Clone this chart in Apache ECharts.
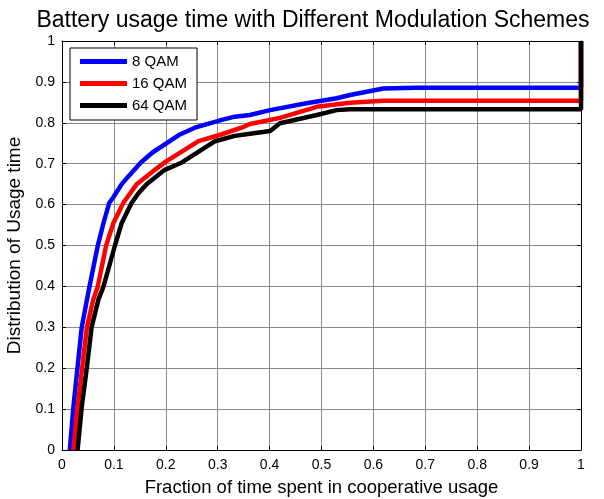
<!DOCTYPE html>
<html>
<head>
<meta charset="utf-8">
<script src="https://cdn.jsdelivr.net/npm/echarts@6/dist/echarts.min.js"></script>
<style>
  html, body { margin: 0; padding: 0; background: #fff; }
  #chart { width: 604px; height: 499px; }
</style>
</head>
<body>
<div id="chart"></div>
<script>
var legendNames = ['8 QAM', '16 QAM', '64 QAM'];

// [fraction of time, distribution]
var qam8 = [
  [0.015, 0], [0.022, 0.105], [0.030, 0.203], [0.038, 0.30], [0.048, 0.367],
  [0.053, 0.40], [0.069, 0.50], [0.080, 0.555], [0.091, 0.604], [0.099, 0.618],
  [0.115, 0.650], [0.130, 0.672], [0.152, 0.703], [0.175, 0.728], [0.204, 0.752],
  [0.225, 0.770], [0.256, 0.788], [0.308, 0.807], [0.333, 0.815], [0.362, 0.819],
  [0.401, 0.831], [0.471, 0.848], [0.529, 0.860], [0.555, 0.868], [0.619, 0.884],
  [0.683, 0.886], [1, 0.886], [1, 1]
];
var qam16 = [
  [0.022, 0], [0.030, 0.105], [0.039, 0.203], [0.048, 0.30], [0.060, 0.367],
  [0.069, 0.40], [0.085, 0.50], [0.099, 0.555], [0.118, 0.604], [0.144, 0.65],
  [0.179, 0.685], [0.200, 0.705], [0.263, 0.755], [0.308, 0.772], [0.346, 0.788],
  [0.362, 0.797], [0.420, 0.812], [0.491, 0.839], [0.555, 0.849], [0.619, 0.854],
  [1, 0.854], [1, 1]
];
var qam64 = [
  [0.030, 0], [0.038, 0.105], [0.048, 0.203], [0.057, 0.30], [0.070, 0.367],
  [0.080, 0.40], [0.102, 0.50], [0.115, 0.555], [0.134, 0.604], [0.147, 0.627],
  [0.163, 0.65], [0.198, 0.685], [0.231, 0.703], [0.295, 0.755], [0.333, 0.768],
  [0.362, 0.773], [0.401, 0.780], [0.420, 0.799], [0.491, 0.819], [0.529, 0.831],
  [0.555, 0.833], [1, 0.833], [1, 1]
];

var font = 'Liberation Sans, Arial, sans-serif';

function makeAxis(isX, pos, labels, name) {
  return {
    type: 'value',
    position: pos,
    min: 0,
    max: 1,
    interval: 0.1,
    name: name,
    nameLocation: 'middle',
    nameGap: isX ? 28 : 35,
    nameTextStyle: { fontFamily: font, fontSize: isX ? 18.5 : 19, color: '#000' },
    axisLine: { show: true, onZero: false, lineStyle: { color: '#000', width: 1 } },
    axisTick: { show: true, inside: true, length: 4, lineStyle: { color: '#000' } },
    axisLabel: {
      show: labels,
      fontFamily: font,
      fontSize: 14,
      color: '#000',
      margin: isX ? 8 : 7,
      formatter: function (v) { return String(Math.round(v * 10) / 10); }
    },
    splitLine: { show: labels, lineStyle: { color: '#8a8a8a', width: 1 } }
  };
}

function makeSeries(name, data, color) {
  return {
    name: name,
    type: 'line',
    data: data,
    showSymbol: false,
    lineStyle: { color: color, width: 4.5 },
    itemStyle: { color: color }
  };
}

var option = {
  animation: false,
  backgroundColor: '#fff',
  title: {
    text: 'Battery usage time with Different Modulation Schemes',
    left: 308,
    textAlign: 'center',
    top: 4,
    textStyle: { fontFamily: font, fontSize: 23, fontWeight: 'normal', color: '#000' }
  },
  legend: {
    orient: 'vertical',
    left: 70,
    top: 48,
    padding: [5, 10, 6, 10],
    itemGap: 5,
    itemWidth: 47,
    itemHeight: 5,
    icon: 'rect',
    backgroundColor: '#fff',
    borderColor: '#000',
    borderWidth: 1,
    borderRadius: 0,
    textStyle: { fontFamily: font, fontSize: 15, color: '#000', lineHeight: 17 },
    data: legendNames
  },
  grid: { left: 62, right: 23, top: 41, bottom: 49, containLabel: false, outerBoundsMode: 'none' },
  xAxis: [
    makeAxis(true, 'bottom', true, 'Fraction of time spent in cooperative usage'),
    makeAxis(true, 'top', false, '')
  ],
  yAxis: [
    makeAxis(false, 'left', true, 'Distribution of Usage time'),
    makeAxis(false, 'right', false, '')
  ],
  series: [
    makeSeries(legendNames[0], qam8, '#0000ff'),
    makeSeries(legendNames[1], qam16, '#ff0000'),
    makeSeries(legendNames[2], qam64, '#000000')
  ]
};

var myChart = echarts.init(document.getElementById('chart'));
myChart.setOption(option);
window.addEventListener('resize', function () {
  myChart.resize();
});
</script>
</body>
</html>
